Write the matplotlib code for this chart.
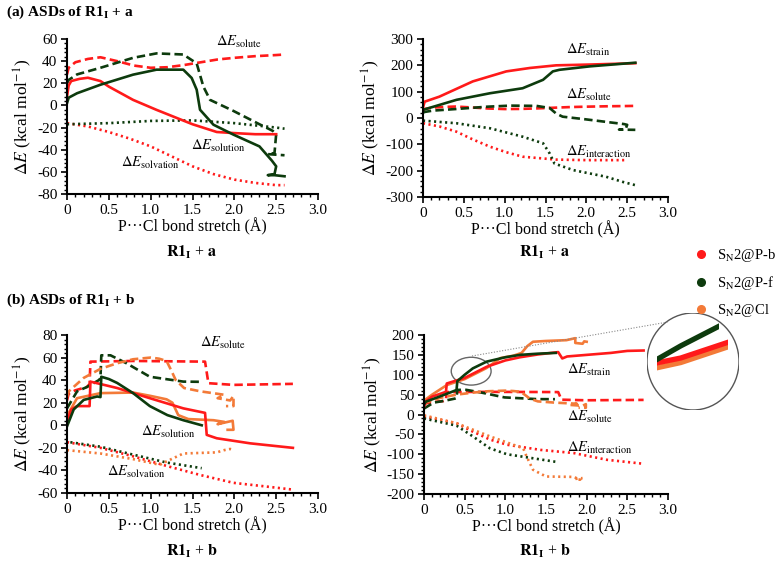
import matplotlib
matplotlib.use("Agg")
import matplotlib.pyplot as plt
from matplotlib.patches import Ellipse, Rectangle
from matplotlib.lines import Line2D
from matplotlib.ticker import MultipleLocator, FuncFormatter

plt.rcParams['font.family'] = ['Liberation Serif', 'DejaVu Serif']
plt.rcParams['mathtext.fontset'] = 'stix'
plt.rcParams['axes.unicode_minus'] = False

RED = '#ff1a1a'
GREEN = '#0d3b0d'
ORANGE = '#f37a38'

legend_labels = [r'S$_\mathrm{N}$2@P-b', r'S$_\mathrm{N}$2@P-f', r'S$_\mathrm{N}$2@Cl']

# ---------------- (a) R1_I + a ----------------
a_pb_solution_x = [0, 0.02, 0.05, 0.15, 0.25, 0.4, 0.5, 0.79, 1.07, 1.5, 1.79, 2.0, 2.25, 2.5]
a_pb_solution_y = [8, 18, 22, 24, 25, 22, 17, 5, -4, -17, -24, -25, -26, -26]
a_pb_solute_x = [0, 0.02, 0.1, 0.25, 0.4, 0.6, 0.8, 1.0, 1.2, 1.4, 1.6, 1.8, 2.0, 2.25, 2.5, 2.6]
a_pb_solute_y = [28, 34, 39, 42, 43.5, 40, 36, 34, 34.5, 36.5, 39, 41.5, 43, 44.5, 45.5, 46]
a_pb_solvation_x = [0, 0.25, 0.5, 0.75, 1.0, 1.25, 1.5, 1.75, 2.0, 2.25, 2.5, 2.6]
a_pb_solvation_y = [-16, -19, -24, -30, -37, -46, -55, -62, -67, -70, -72, -72]

a_pf_solution_x = [0, 0.02, 0.12, 0.4, 0.79, 1.07, 1.39, 1.49, 1.55, 1.59, 1.75, 1.99, 2.3, 2.45, 2.5, 2.48, 2.4, 2.48, 2.6]
a_pf_solution_y = [2, 7, 11, 18.7, 27.8, 32.3, 32.3, 24.8, 14.2, -3.9, -17.4, -26.4, -37, -50, -55, -62, -63, -63, -64]
a_pf_solute_x = [0, 0.02, 0.12, 0.4, 0.79, 1.07, 1.39, 1.55, 1.63, 1.71, 1.99, 2.3, 2.46, 2.5, 2.48, 2.4, 2.6]
a_pf_solute_y = [20, 23, 28, 34, 43, 47, 46, 38, 17, 5, -5, -17, -23, -26, -43, -44, -45]
a_pf_solvation_x = [0, 0.5, 1.0, 1.5, 2.0, 2.5, 2.6]
a_pf_solvation_y = [-17, -16, -14, -13.5, -16, -20, -21]

a_pb_strain_x = [0, 0.02, 0.2, 0.61, 1.02, 1.31, 1.63, 2.04, 2.6]
a_pb_strain_y = [40, 62, 81, 139, 177, 190, 200, 203, 208]
a_pb_inter_x = [0, 0.2, 0.41, 0.6, 0.82, 1.02, 1.22, 1.63, 2.0, 2.5]
a_pb_inter_y = [-20, -32, -52, -80, -109, -130, -147, -158, -160, -160]
a_pf_strain_x = [0, 0.41, 0.82, 1.22, 1.47, 1.59, 1.67, 2.04, 2.6]
a_pf_strain_y = [31, 69, 94, 113, 145, 177, 183, 196, 210]
a_pf_inter_x = [0, 0.41, 0.82, 1.22, 1.47, 1.55, 1.61, 1.84, 2.24, 2.45, 2.6]
a_pf_inter_y = [-10, -20, -39, -71, -96, -134, -173, -198, -223, -243, -255]

# ---------------- (b) R1_I + b ----------------
b_pb_solution_x = [0, 0.01, 0.05, 0.12, 0.27, 0.28, 0.6, 0.99, 1.39, 1.65, 1.67, 1.79, 2.19, 2.7]
b_pb_solution_y = [2, 5, 14, 17, 17, 38.7, 33, 24, 15, 11, -8.5, -11.5, -16, -20]
b_pb_solute_x = [0, 0.02, 0.1, 0.24, 0.27, 0.28, 0.79, 1.65, 1.69, 1.99, 2.7]
b_pb_solute_y = [22, 28, 31, 34, 36.7, 56.4, 57, 56.4, 37.3, 35.8, 36.7]
b_pb_solvation_x = [0, 0.4, 0.79, 1.19, 1.59, 1.99, 2.35, 2.7]
b_pb_solvation_y = [-15, -20, -27.5, -36, -44, -51, -54, -57]

b_pf_solution_x = [0, 0.08, 0.2, 0.36, 0.4, 0.41, 0.5, 0.6, 0.79, 0.99, 1.2, 1.39, 1.61]
b_pf_solution_y = [-1, 14, 22.5, 25.5, 25, 43, 41, 37.5, 28.5, 17, 9, 4.5, 0]
b_pf_solute_x = [0, 0.12, 0.24, 0.38, 0.4, 0.41, 0.52, 0.71, 0.99, 1.39, 1.61]
b_pf_solute_y = [15, 30, 34, 40, 41.7, 62, 62, 55, 43, 38.7, 38.5]
b_pf_solvation_x = [0.04, 0.4, 0.79, 1.19, 1.61]
b_pf_solvation_y = [-15, -19, -26, -33, -38]

b_cl_solution_x = [0, 0.02, 0.12, 0.4, 0.79, 1.0, 1.19, 1.26, 1.33, 1.45, 1.75, 1.88, 1.8, 1.98, 1.99, 1.92]
b_cl_solution_y = [5, 11, 24, 28.5, 29, 26, 23, 20, 9, 5.5, 4.5, 3, 1, 4, -4, -4]
b_cl_solute_x = [0, 0.02, 0.2, 0.4, 0.6, 0.79, 1.0, 1.1, 1.19, 1.25, 1.3, 1.4, 1.6, 1.79, 1.88, 1.8, 1.95, 1.99, 1.99, 1.9]
b_cl_solute_y = [25, 30, 42, 50, 55, 58.5, 60, 59, 57, 48, 40, 33, 30, 28, 27, 24, 22, 26, 17, 17]
b_cl_solvation_x = [0, 0.4, 0.79, 1.11, 1.19, 1.39, 1.59, 1.79, 1.88, 1.95, 2.0]
b_cl_solvation_y = [-22, -25, -30, -35, -32, -25, -24.5, -24, -22, -21, -22]

b_pb_strain_x = [0, 0.02, 0.1, 0.27, 0.28, 0.5, 0.77, 1.0, 1.18, 1.4, 1.65, 1.7, 1.76, 2.0, 2.3, 2.5, 2.7]
b_pb_strain_y = [20, 33, 45, 57, 78, 92, 120, 136, 144, 151, 157, 141, 146, 150, 155, 160, 161]
b_pf_strain_x = [0, 0.02, 0.19, 0.38, 0.4, 0.41, 0.5, 0.6, 0.77, 1.0, 1.18, 1.4, 1.62]
b_pf_strain_y = [25, 32, 45, 60, 62, 84, 100, 116, 133, 144, 150, 153, 155]
b_cl_strain_x = [0, 0.02, 0.1, 0.28, 0.5, 0.77, 0.94, 1.1, 1.2, 1.27, 1.34, 1.5, 1.75, 1.86, 1.86, 1.95, 1.97, 2.0]
b_cl_strain_y = [30, 38, 50, 74, 89, 117, 142, 148, 155, 172, 183, 185, 187, 192, 180, 178, 184, 183]

b_pb_inter_x = [0, 0.4, 0.6, 0.81, 1.02, 1.43, 1.84, 2.25, 2.7]
b_pb_inter_y = [-5, -22, -43, -63, -76, -89, -97, -114, -124]
b_pf_inter_x = [0, 0.4, 0.6, 0.81, 1.02, 1.43, 1.62]
b_pf_inter_y = [-10, -28, -55, -85, -100, -113, -119]
b_cl_inter_x = [0, 0.4, 0.81, 1.22, 1.26, 1.34, 1.5, 1.84, 1.92, 1.86, 1.95]
b_cl_inter_y = [-2, -22, -55, -85, -105, -139, -156, -157, -164, -162, -160]

SOLID = dict(ls='-', lw=1.9)
DASH = dict(ls=(0, (3.2, 1.6)), lw=1.9)
DOT = dict(ls=(0, (0.8, 1.3)), lw=1.9)


def setup(ax, ylim, ystep):
    ax.set_xlim(0, 3)
    ax.set_ylim(*ylim)
    for s in ['top', 'right']:
        ax.spines[s].set_visible(False)
    for s in ['left', 'bottom']:
        ax.spines[s].set_linewidth(1.5)
    ax.xaxis.set_major_locator(MultipleLocator(0.5))
    ax.xaxis.set_minor_locator(MultipleLocator(0.1))
    ax.yaxis.set_major_locator(MultipleLocator(ystep))
    ax.yaxis.set_minor_locator(MultipleLocator(ystep / 5))
    ax.xaxis.set_major_formatter(FuncFormatter(lambda v, p: '0' if v == 0 else f'{v:.1f}'))
    ax.tick_params(which='major', length=4, width=1.2, labelsize=11, pad=3)
    ax.tick_params(which='minor', length=2.5, width=1.0)
    ax.set_xlabel('P\u00b7\u00b7\u00b7Cl bond stretch (\u00c5)', fontsize=11.5, labelpad=1)
    ax.set_ylabel(r'$\Delta E$ (kcal mol$^{-1}$)', fontsize=12.5, labelpad=2)


def label(ax, x, y, sub):
    ax.text(x, y, r'$\Delta E_{\mathrm{' + sub + '}}$', fontsize=10.5, ha='left', va='center')


fig = plt.figure(figsize=(7.81, 5.64), dpi=100)

# (a) left
ax = fig.add_axes([67 / 781, 1 - 194 / 564, 251 / 781, 155 / 564])
setup(ax, (-80, 60), 20)
ax.plot(a_pb_solute_x, a_pb_solute_y, color=RED, **DASH)
ax.plot(a_pf_solute_x, a_pf_solute_y, color=GREEN, **DASH)
ax.plot(a_pb_solvation_x, a_pb_solvation_y, color=RED, **DOT)
ax.plot(a_pf_solvation_x, a_pf_solvation_y, color=GREEN, **DOT)
ax.plot(a_pb_solution_x, a_pb_solution_y, color=RED, **SOLID)
ax.plot(a_pf_solution_x, a_pf_solution_y, color=GREEN, **SOLID)
label(ax, 1.78, 57, 'solute')
label(ax, 1.48, -37, 'solution')
label(ax, 0.64, -52, 'solvation')

# (a) right
ax = fig.add_axes([423 / 781, 1 - 197 / 564, 245 / 781, 158 / 564])
setup(ax, (-300, 300), 100)
ax.plot(a_pb_solute_x, a_pb_solute_y, color=RED, **DASH)
ax.plot(a_pf_solute_x, a_pf_solute_y, color=GREEN, **DASH)
ax.plot(a_pb_inter_x, a_pb_inter_y, color=RED, **DOT)
ax.plot(a_pf_inter_x, a_pf_inter_y, color=GREEN, **DOT)
ax.plot(a_pb_strain_x, a_pb_strain_y, color=RED, **SOLID)
ax.plot(a_pf_strain_x, a_pf_strain_y, color=GREEN, **SOLID)
label(ax, 1.75, 259, 'strain')
label(ax, 1.75, 88, 'solute')
label(ax, 1.75, -128, 'interaction')

# (b) left
ax = fig.add_axes([67 / 781, 1 - 493 / 564, 251 / 781, 158 / 564])
setup(ax, (-60, 80), 20)
ax.plot(b_pb_solute_x, b_pb_solute_y, color=RED, **DASH)
ax.plot(b_pf_solute_x, b_pf_solute_y, color=GREEN, **DASH)
ax.plot(b_cl_solute_x, b_cl_solute_y, color=ORANGE, **DASH)
ax.plot(b_pb_solvation_x, b_pb_solvation_y, color=RED, **DOT)
ax.plot(b_pf_solvation_x, b_pf_solvation_y, color=GREEN, **DOT)
ax.plot(b_cl_solvation_x, b_cl_solvation_y, color=ORANGE, **DOT)
ax.plot(b_cl_solution_x, b_cl_solution_y, color=ORANGE, **SOLID)
ax.plot(b_pb_solution_x, b_pb_solution_y, color=RED, **SOLID)
ax.plot(b_pf_solution_x, b_pf_solution_y, color=GREEN, **SOLID)
label(ax, 1.59, 73, 'solute')
label(ax, 0.89, -5.5, 'solution')
label(ax, 0.48, -41, 'solvation')

# (b) right
axb = fig.add_axes([424 / 781, 1 - 494 / 564, 244 / 781, 159 / 564])
setup(axb, (-200, 200), 50)
axb.plot(b_pb_solute_x, b_pb_solute_y, color=RED, **DASH)
axb.plot(b_pf_solute_x, b_pf_solute_y, color=GREEN, **DASH)
axb.plot(b_cl_solute_x, b_cl_solute_y, color=ORANGE, **DASH)
axb.plot(b_pb_inter_x, b_pb_inter_y, color=RED, **DOT)
axb.plot(b_pf_inter_x, b_pf_inter_y, color=GREEN, **DOT)
axb.plot(b_cl_inter_x, b_cl_inter_y, color=ORANGE, **DOT)
axb.plot(b_cl_strain_x, b_cl_strain_y, color=ORANGE, **SOLID)
axb.plot(b_pb_strain_x, b_pb_strain_y, color=RED, **SOLID)
axb.plot(b_pf_strain_x, b_pf_strain_y, color=GREEN, **SOLID)
label(axb, 1.755, 112, 'strain')
label(axb, 1.755, -5, 'solute')
label(axb, 1.755, -85, 'interaction')
axb.add_patch(Ellipse((0.58, 109), 0.49, 70, fill=False, ec='#666666', lw=1))

# magnified inset
axi = fig.add_axes([647 / 781, 1 - 410 / 564, 92 / 781, 97 / 564])
axi.set_xlim(0.4286, 0.6234)
axi.set_ylim(57.7, 121.7)
axi.axis('off')
axi.add_patch(Ellipse((0.5, 0.5), 1, 1, transform=axi.transAxes, fill=False, ec='#555555', lw=1))
for xs, ys, c, x1 in [(b_cl_strain_x, b_cl_strain_y, ORANGE, 0.6),
                      (b_pb_strain_x, b_pb_strain_y, RED, 0.6),
                      (b_pf_strain_x, b_pf_strain_y, GREEN, 0.58)]:
    ln, = axi.plot(xs, ys, color=c, lw=3.8, solid_capstyle='butt')
    clip = Rectangle((0.45, 0), x1 - 0.45, 200, transform=axi.transData)
    ln.set_clip_path(clip)

fig.add_artist(Line2D([472 / 781, 668 / 781], [1 - 356 / 564, 1 - 322 / 564],
                      transform=fig.transFigure, color='#888888', lw=0.8, ls=(0, (1, 1.5))))

# legend
handles = [Line2D([], [], marker='o', ls='none', color=c, markersize=5.5) for c in [RED, GREEN, ORANGE]]
fig.legend(handles, legend_labels, loc='upper left', bbox_to_anchor=(694 / 781, 1 - 247 / 564),
           frameon=False, fontsize=10.5, handlelength=1, handletextpad=0.55, labelspacing=0.7,
           borderaxespad=0, borderpad=0)

# titles and captions
fig.text(6 / 781, 1 - 12 / 564, r'(a) ASDs of R1$_{\mathbf{I}}$ + a', fontsize=11, fontweight='bold', va='center')
fig.text(6 / 781, 1 - 300 / 564, r'(b) ASDs of R1$_{\mathbf{I}}$ + b', fontsize=11, fontweight='bold', va='center')
for xc, yc, s in [(192, 252, 'a'), (545, 252, 'a'), (192, 551, 'b'), (545, 551, 'b')]:
    fig.text(xc / 781, 1 - yc / 564, r'$\mathbf{R1}_{\mathbf{I}}$ + $\mathbf{' + s + '}$',
             fontsize=11.5, ha='center', va='center')

fig.savefig('out.png', dpi=100)
